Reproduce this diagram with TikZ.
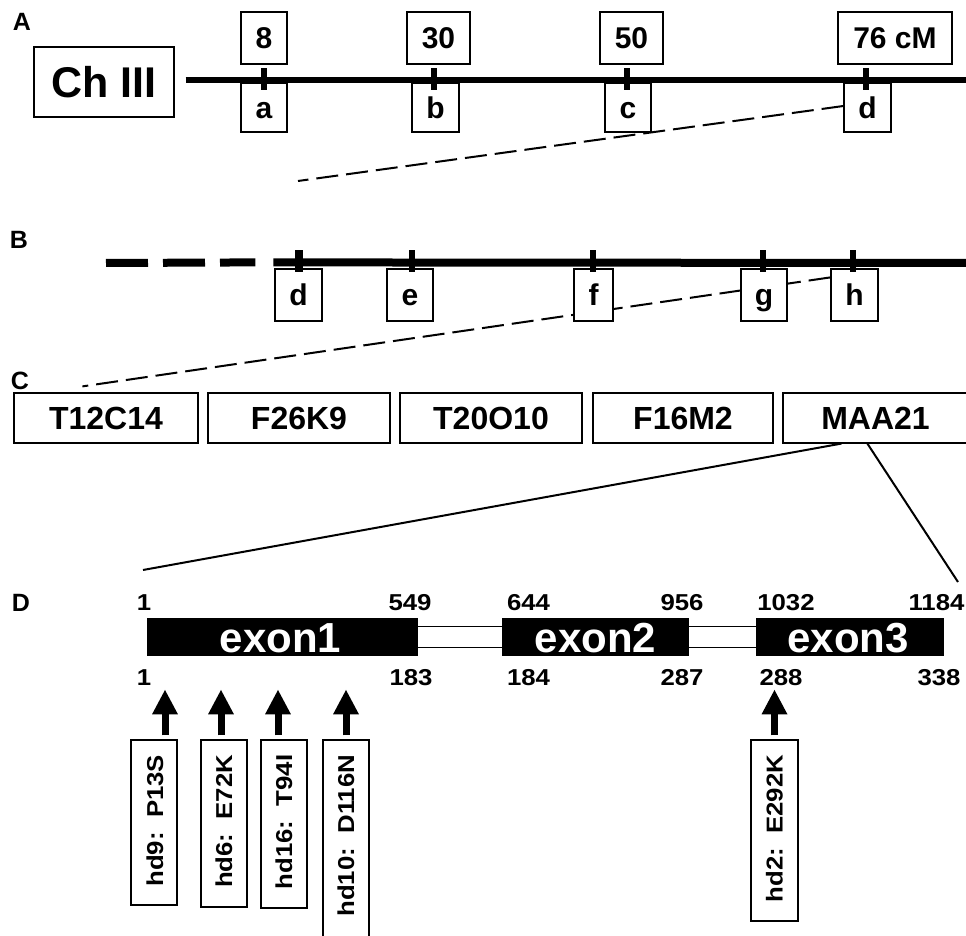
\documentclass[tikz,border=0pt]{standalone}
\usepackage{fontspec}
\setmainfont{Liberation Sans}
\newfontfamily\dfont{Liberation Sans}[FakeStretch=1.12]
\usetikzlibrary{arrows.meta,calc}
\pgfdeclarelayer{bg}
\pgfsetlayers{bg,main}
\begin{document}
\begin{tikzpicture}[x=0.5pt,y=-0.5pt,
  plainbox/.style={draw,line width=0.6pt,fill=white,inner sep=0pt},
  box/.style={plainbox,text height=10.8pt,text depth=0pt,font=\bfseries\fontsize{15}{18}\selectfont},
  chbox/.style={plainbox,font=\bfseries\fontsize{21.5}{24}\selectfont},
  cbox/.style={plainbox,minimum height=25pt,font=\bfseries\fontsize{16}{19}\selectfont},
  panel/.style={inner sep=0pt,font=\bfseries\fontsize{12.5}{14}\selectfont},
  chrom/.style={line width=2.6pt},
  chromB/.style={line width=4pt},
  tickmark/.style={line width=2.6pt},
  dsh/.style={line width=1pt,dash pattern=on 11pt off 4pt},
  zoomline/.style={line width=1pt},
  num/.style={inner sep=0pt,font=\dfont\bfseries\fontsize{11.5}{13}\selectfont},
  exon/.style={fill=black,inner sep=0pt,minimum height=19pt},
  exlabel/.style={inner sep=0pt,text=white,font=\bfseries\fontsize{21}{23}\selectfont},
  intron/.style={draw,line width=0.5pt,inner sep=0pt,minimum height=10.5pt},
  mutbox/.style={draw,line width=0.6pt,inner sep=0pt,minimum width=23pt},
  mut/.style={rotate=90,anchor=east,inner sep=0pt,font=\dfont\bfseries\fontsize{11.5}{13}\selectfont},
  arr/.style={line width=3.5pt,-{Triangle[width=12pt,length=12.5pt]}}
]
\useasboundingbox (0,0) rectangle (966,936);
\begin{pgfonlayer}{bg}
\fill[white] (0,0) rectangle (966,936);
\end{pgfonlayer}

% panel letters
\node[panel] (lA) at (22,22) {A};
\node[panel] (lB) at (19,240) {B};
\node[panel] (lC) at (20,381) {C};
\node[panel] (lD) at (21,603) {D};

% ---------------- Panel A
\node[chbox,minimum width=70pt,minimum height=35pt] (ch) at (104,82) {Ch III};
\node[box,minimum width=23pt,minimum height=26pt] (m8) at (264,38) {8};
\node[box,minimum width=31.5pt,minimum height=26pt] (m30) at (438.5,38) {30};
\node[box,minimum width=31.5pt,minimum height=26pt] (m50) at (631.5,38) {50};
\node[box,minimum width=57pt,minimum height=26pt] (m76) at (895,38) {76 cM};
\node[box,minimum width=23pt,minimum height=24.5pt] (aA) at (264,107.5) {a};
\node[box,minimum width=23.5pt,minimum height=24.5pt] (bA) at (435.5,107.5) {b};
\node[box,minimum width=23pt,minimum height=24.5pt] (cA) at (628,107.5) {c};
\node[box,minimum width=23.5pt,minimum height=24.5pt] (dA) at (867.5,107.5) {d};
\coordinate (endA) at (966,80);
\coordinate (pA) at (298,181);
\draw[chrom] ($(ch.east)+(11,-2)$) -- (endA);
\draw[tickmark] ($(aA.north)+(0,-14)$) -- ++(0,22);
\draw[tickmark] ($(bA.north)+(-1.5,-14)$) -- ++(0,22);
\draw[tickmark] ($(cA.north)+(-1,-14)$) -- ++(0,22);
\draw[tickmark] ($(dA.north)+(-1.5,-14)$) -- ++(0,22);
\begin{pgfonlayer}{bg}
\draw[dsh] ($(dA.west)+(0,-1.5)$) -- (pA);
\end{pgfonlayer}

% ---------------- Panel B
\node[box,minimum width=23.5pt,minimum height=26pt] (dB) at (298.5,295) {d};
\node[box,minimum width=23pt,minimum height=26pt] (eB) at (410,295) {e};
\node[box,minimum width=19.5pt,minimum height=26pt] (fB) at (593.5,295) {f};
\node[box,minimum width=23pt,minimum height=26pt] (gB) at (764,295) {g};
\node[box,minimum width=23.5pt,minimum height=26pt] (hB) at (854.5,295) {h};
\coordinate (startB) at (106,263);
\coordinate (endB) at (966,263);
\draw[line width=4pt,dash pattern=on 21pt off 7.5pt] (startB) -- ($(dB.north west)+(-19,-6)$);
\draw[chromB] ($(dB.north west)+(-1,-6)$) -- (endB);
\draw[line width=4pt] ($(dB.north)+(0.5,-18)$) -- ++(0,22);
\draw[tickmark] ($(eB.north)+(2,-18)$) -- ++(0,22);
\draw[tickmark] ($(fB.north)+(-0.5,-18)$) -- ++(0,22);
\draw[tickmark] ($(gB.north)+(-1,-18)$) -- ++(0,22);
\draw[tickmark] ($(hB.north)+(-1.5,-18)$) -- ++(0,22);

% ---------------- Panel C
\node[cbox,minimum width=92pt] (c1) at (106,418) {T12C14};
\node[cbox,minimum width=91pt] (c2) at (299,418) {F26K9};
\node[cbox,minimum width=91pt] (c3) at (491,418) {T20O10};
\node[cbox,minimum width=90pt] (c4) at (683,418) {F16M2};
\node[cbox,minimum width=92.5pt] (c5) at (875.5,418) {MAA21};
\begin{pgfonlayer}{bg}
\draw[dsh] ($(hB.north west)+(0,9)$) -- ($(c1.north west)+(69,-6)$);
\end{pgfonlayer}
\coordinate (zl) at (143,570);
\coordinate (zr) at (958,582);
\draw[zoomline] ($(c5.south west)+(59,0)$) -- (zl);
\draw[zoomline] ($(c5.south west)+(85,0)$) -- (zr);

% ---------------- Panel D
\node[intron,minimum width=44pt] (in1) at (460,637) {};
\node[intron,minimum width=35.5pt] (in2) at (722.5,637) {};
\node[exon,minimum width=135.5pt] (ex1) at (282.5,637) {};
\node[exon,minimum width=93.5pt] (ex2) at (595.5,637) {};
\node[exon,minimum width=94pt] (ex3) at (850,637) {};
\node[exlabel] (t1) at ($(ex1.center)+(-2,1.5)$) {exon1};
\node[exlabel] (t2) at ($(ex2.center)+(0,1.5)$) {exon2};
\node[exlabel] (t3) at ($(ex3.center)+(-2,1.5)$) {exon3};

\node[num] (u1) at (144,602.5) {1};
\node[num] (u2) at (410,602.5) {549};
\node[num] (u3) at (528.5,602.5) {644};
\node[num] (u4) at (682,602.5) {956};
\node[num] (u5) at (786,602.5) {1032};
\node[num] (u6) at (936.5,602.5) {1184};
\node[num] (v1) at (144,677.5) {1};
\node[num] (v2) at (411,677.5) {183};
\node[num] (v3) at (528.5,677.5) {184};
\node[num] (v4) at (682,677.5) {287};
\node[num] (v5) at (781,677.5) {288};
\node[num] (v6) at (939,677.5) {338};

% mutation boxes
\node[mutbox,minimum height=82.5pt] (hd9) at (154,822.5) {};
\node[mutbox,minimum height=83.5pt] (hd6) at (224,823.5) {};
\node[mutbox,minimum height=84pt] (hd16) at (284,824) {};
\node[mutbox,minimum height=110pt] (hd10) at (346,850) {};
\node[mutbox,minimum width=23.5pt,minimum height=90.5pt] (hd2) at (774.5,830.5) {};

\node[mut] (s9) at ($(hd9.north)+(1,15)$) {hd9:\ \ P13S};
\node[mut] (s6) at ($(hd6.north)+(0,15)$) {hd6:\ \ E72K};
\node[mut] (s16) at ($(hd16.north)+(0,15)$) {hd16:\ \ T94I};
\node[mut] (s10) at ($(hd10.north)+(0,15)$) {hd10:\ \ D116N};
\node[mut] (s2) at ($(hd2.north)+(0,15)$) {hd2:\ \ E292K};

\draw[arr] ($(hd9.north)+(11,-4)$) -- ++(0,-46);
\draw[arr] ($(hd6.north)+(-3,-4)$) -- ++(0,-46);
\draw[arr] ($(hd16.north)+(-6,-4)$) -- ++(0,-46);
\draw[arr] ($(hd10.north)+(0,-4)$) -- ++(0,-46);
\draw[arr] ($(hd2.north)+(0,-4)$) -- ++(0,-46);
\end{tikzpicture}
\end{document}
